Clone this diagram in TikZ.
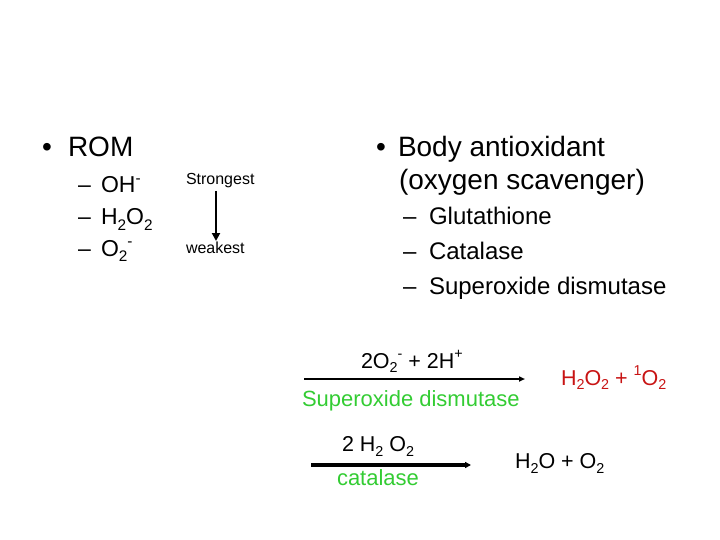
\documentclass[tikz,border=0pt]{standalone}
\usepackage{fontspec}
\setmainfont{Liberation Sans}
\usetikzlibrary{arrows.meta}
\definecolor{enzgreen}{RGB}{51,204,51}
\definecolor{prodred}{RGB}{200,20,20}
\makeatletter
\newcommand\dn[1]{\raisebox{-0.22em}{\fontsize{\dimexpr\f@size pt*2/3\relax}{0pt}\selectfont #1}}
\newcommand\up[1]{\raisebox{0.42em}{\fontsize{\dimexpr\f@size pt*2/3\relax}{0pt}\selectfont #1}}
\makeatother
\begin{document}
\begin{tikzpicture}[x=1pt,y=-1pt,
  txt/.style={inner sep=0pt, outer sep=0pt, anchor=base west},
  lvlone/.style={txt, font=\fontsize{28}{34}\selectfont},
  lvltwo/.style={txt, font=\fontsize{23}{28}\selectfont},
  lvltwor/.style={txt, font=\fontsize{24}{29}\selectfont},
  smalltxt/.style={txt, font=\fontsize{16}{19}\selectfont},
  chem/.style={txt, font=\fontsize{21.5}{26}\selectfont},
  enz/.style={txt, font=\fontsize{22}{26}\selectfont, text=enzgreen},
  rxnthin/.style={line width=1.6pt, -{Triangle[length=6pt,width=5pt]}},
  rxnthick/.style={line width=3.2pt, -{Triangle[length=6pt,width=6pt]}},
  rank/.style={line width=2pt, -{Triangle[length=8pt,width=8pt]}},
]
\useasboundingbox (0,0) rectangle (720,540);

% left column
\node[lvlone] (bulA) at (42,157) {•};
\node[lvlone] (rom) at (68,157) {ROM};
\node[lvltwo] (dA) at (78,193) {–};
\node[lvltwo] (oh) at (101,193) {OH\up{-}};
\node[lvltwo] (dB) at (78,225) {–};
\node[lvltwo] (hoo) at (101,225) {H\dn{2}O\dn{2}};
\node[lvltwo] (dC) at (78,256) {–};
\node[lvltwo] (sup) at (101,256) {O\dn{2}\up{-}};

% strength scale
\node[smalltxt] (strong) at (186,185) {Strongest};
\node[smalltxt] (weak) at (186,253) {weakest};
\coordinate (rkS) at (216,191);
\coordinate (rkE) at (216,241);
\draw[rank] (rkS) -- (rkE);

% right column
\node[lvlone] (bulB) at (376,157) {•};
\node[lvlone] (body) at (398,157) {Body antioxidant};
\node[lvlone] (scav) at (399,190) {(oxygen scavenger)};
\node[lvltwor] (dD) at (403,225) {–};
\node[lvltwor] (glu) at (429,225) {Glutathione};
\node[lvltwor] (dE) at (403,259) {–};
\node[lvltwor] (cat) at (429,259) {Catalase};
\node[lvltwor] (dF) at (403,294) {–};
\node[lvltwor] (sod) at (429,294) {Superoxide dismutase};

% reaction 1
\node[chem] (reac1) at (361,368) {2O\dn{2}\up{-} + 2H\up{+}};
\coordinate (r1s) at (304,379);
\coordinate (r1e) at (525,379);
\draw[rxnthin] (r1s) -- (r1e);
\node[enz] (enz1) at (302,406.5) {Superoxide dismutase};
\node[chem, text=prodred] (prod1) at (561,385) {H\dn{2}O\dn{2} + \up{1}O\dn{2}};

% reaction 2
\node[chem] (reac2) at (342,451.5) {2 H\dn{2} O\dn{2}};
\coordinate (r2s) at (311,465);
\coordinate (r2e) at (471,465);
\draw[rxnthick] (r2s) -- (r2e);
\node[enz] (enz2) at (337,485) {catalase};
\node[chem] (prod2) at (515,468.3) {H\dn{2}O + O\dn{2}};
\end{tikzpicture}
\end{document}
